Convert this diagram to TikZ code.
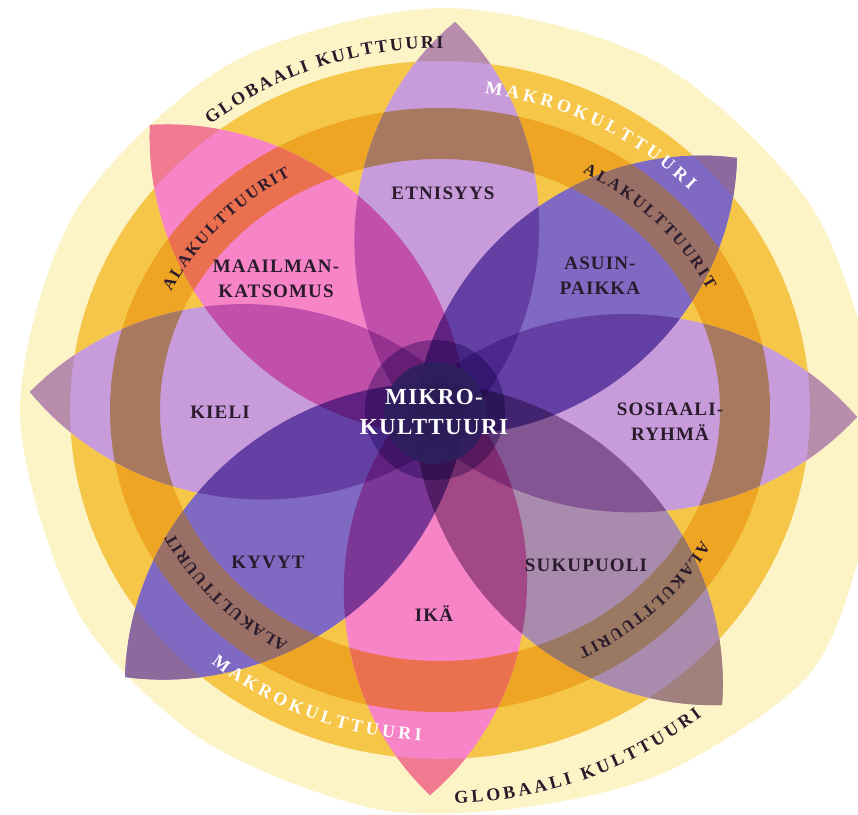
\documentclass[tikz,border=0pt]{standalone}
\usepackage{fontspec}
\setmainfont{Liberation Serif}
\newfontfamily\lblfamily[LetterSpace=6]{Liberation Serif}
\usetikzlibrary{calc,decorations.text}

\definecolor{globc}{HTML}{FCF3C6}
\definecolor{makroc}{HTML}{F5C647}
\definecolor{alac}{HTML}{EEA523}
\definecolor{inkc}{HTML}{2A1B2C}
\definecolor{mikroc}{HTML}{2E205E}
\definecolor{haloc}{HTML}{AE9CCE}
% petal colours: body, band (b), tip (t)
\definecolor{lilac}{HTML}{C89CDA}\definecolor{blilac}{HTML}{A8785F}\definecolor{tlilac}{HTML}{B88CAB}
\definecolor{pviol}{HTML}{8069C2}\definecolor{bpviol}{HTML}{9A6F66}\definecolor{tpviol}{HTML}{8C6A9E}
\definecolor{rose}{HTML}{F684C6}\definecolor{brose}{HTML}{EB7050}\definecolor{trose}{HTML}{F07A90}
\definecolor{mauve}{HTML}{A98CAD}\definecolor{bmauve}{HTML}{9A7862}\definecolor{tmauve}{HTML}{A07F7C}

\newcommand{\ringfont}{\bfseries\fontsize{18}{18}\selectfont}
\newcommand{\alafont}{\bfseries\fontsize{16.5}{16.5}\selectfont}

\tikzset{
  petalpath/.style={insert path={(#1) to[bend left=48] ($(0,0)!-0.09!(#1)$)
      to[bend left=48] (#1) -- cycle}},
  lbl/.style={font=\lblfamily\bfseries\fontsize{19}{25}\selectfont, text=inkc,
      align=center, inner sep=0pt},
}

\begin{document}
\begin{tikzpicture}[x=1pt,y=1pt]
  \useasboundingbox (-440,-404) rectangle (418,410);
  \clip (-440,-404) rectangle (418,410);
  % globaali, makro and alakulttuuri rings
  \fill[globc] plot[smooth cycle] coordinates {(5,402) (217,348) (373,201)
    (439,0) (420,-143) (367,-267) (226,-362) (79,-398) (-69,-398)
    (-239,-329) (-363,-201) (-420,0) (-363,201) (-207,348)};
  \fill[makroc] (0,0) ellipse[x radius=370, y radius=349];
  \fill[alac, even odd rule] (0,0) ellipse[x radius=330, y radius=302]
    (0,0) ellipse[x radius=280, y radius=251];
  % petal tips
  \coordinate (tipEt) at (15,388);
  \coordinate (tipAs) at (297,252);
  \coordinate (tipSo) at (417,-7);
  \coordinate (tipSu) at (282,-295);
  \coordinate (tipIk) at (-10,-385);
  \coordinate (tipKy) at (-315,-267);
  \coordinate (tipKi) at (-410,18);
  \coordinate (tipMa) at (-290,285);
  % petals
  \foreach \p in {tipEt,tipAs,tipSo,tipSu,tipIk,tipKy,tipKi,tipMa}
    \fill[white, petalpath=\p];
  \begin{scope}[blend mode=multiply]
    \foreach \p/\c in {tipEt/lilac,tipAs/pviol,tipSo/lilac,tipSu/mauve,
        tipIk/rose,tipKy/pviol,tipKi/lilac,tipMa/rose}
      \fill[\c, petalpath=\p];
  \end{scope}
  \foreach \p/\c in {tipEt/lilac,tipAs/pviol,tipSo/lilac,tipSu/mauve,
      tipIk/rose,tipKy/pviol,tipKi/lilac,tipMa/rose}{
    \begin{scope}
      \path[clip, petalpath=\p];
      \fill[b\c, even odd rule] (0,0) ellipse[x radius=330, y radius=302]
        (0,0) ellipse[x radius=280, y radius=251];
      \fill[t\c, even odd rule] (-460,-460) rectangle (460,460)
        (0,0) ellipse[x radius=370, y radius=349];
    \end{scope}
  }
  % mikrokulttuuri
  \fill[haloc, blend mode=multiply] (-5,0) circle (70);
  \fill[mikroc, opacity=0.9] (-5,-3) circle (51);
  % labels
  \node[lbl] (etnisyys) at (3,217) {ETNISYYS};
  \node[lbl] (asuinpaikka) at (160,134) {ASUIN-\\PAIKKA};
  \node[lbl] (sosiaali) at (230,-12) {SOSIAALI-\\RYHMÄ};
  \node[lbl] (sukupuoli) at (146,-155) {SUKUPUOLI};
  \node[lbl] (ika) at (-6,-204) {IKÄ};
  \node[lbl] (kyvyt) at (-172,-152) {KYVYT};
  \node[lbl] (kieli) at (-220,-2) {KIELI};
  \node[lbl] (maailman) at (-164,131) {MAAILMAN-\\KATSOMUS};
  \node[lbl, text=white, font=\lblfamily\bfseries\fontsize{23}{30}\selectfont]
    (mikro) at (-6,-2) {MIKRO-\\KULTTUURI};
  % ring texts
  \path[decorate, decoration={text along path, text color=inkc,
      text={|\ringfont|GLOBAALI KULTTUURI}, text align=fit to path}]
    (128:373 and 362) arc[start angle=128, end angle=89.5, x radius=373, y radius=362];
  \path[decorate, decoration={text along path, text color=inkc,
      text={|\ringfont|GLOBAALI KULTTUURI}, text align=fit to path}]
    (-88:416 and 394) arc[start angle=-88, end angle=-51, x radius=416, y radius=394];
  \path[decorate, decoration={text along path, text color=white,
      text={|\ringfont|MAKROKULTTUURI}, text align=fit to path}]
    (82.5:344 and 319) arc[start angle=82.5, end angle=43.5, x radius=344, y radius=319];
  \path[decorate, decoration={text along path, text color=white,
      text={|\ringfont|MAKROKULTTUURI}, text align=fit to path}]
    (-130:356 and 331) arc[start angle=-130, end angle=-93, x radius=356, y radius=331];
  \foreach \a/\b in {154/120, 61.5/26.5, -29/-62.5, -120.5/-153}
    \path[decorate, decoration={text along path, text color=inkc,
        text={|\alafont|ALAKULTTUURIT}, text align=fit to path}]
      (\a:299 and 270) arc[start angle=\a, end angle=\b, x radius=299, y radius=270];
\end{tikzpicture}
\end{document}
